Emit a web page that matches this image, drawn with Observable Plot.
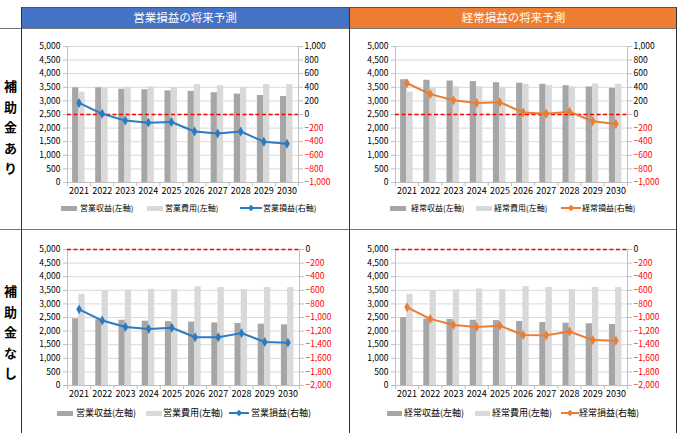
<!DOCTYPE html>
<html><head><meta charset="utf-8">
<script src="https://cdn.jsdelivr.net/npm/d3@7"></script>
<script src="https://cdn.jsdelivr.net/npm/@observablehq/plot@0.6"></script>
<style>
body{margin:0;background:#fff;font-family:"Noto Sans CJK JP","Noto Sans",sans-serif;}
#root{position:relative;width:677px;height:433px;overflow:hidden;background:#fff;}
.abs{position:absolute;}
.hdr{position:absolute;top:7px;height:21px;color:#fff;font-size:11.5px;line-height:21px;text-align:center;}
.row{position:absolute;left:0;width:21px;text-align:center;font-weight:bold;font-size:13px;line-height:20.5px;color:#000;}
.lg{position:absolute;white-space:nowrap;color:#000;}
</style></head><body><div id="root"></div>
<script>
// ---- data ----
const years = ["2021","2022","2023","2024","2025","2026","2027","2028","2029","2030"];
// 補助金あり
const opRevWith    = [3480, 3480, 3430, 3410, 3370, 3350, 3300, 3250, 3200, 3160];
const opCostWith   = [3320, 3470, 3500, 3510, 3490, 3600, 3560, 3500, 3600, 3600];
const opProfitWith = [170, 10, -90, -120, -110, -250, -280, -250, -400, -430];
const ordRevWith    = [3780, 3760, 3730, 3710, 3670, 3650, 3610, 3560, 3510, 3460];
const ordCostWith   = [3320, 3480, 3520, 3520, 3500, 3610, 3570, 3510, 3620, 3610];
const ordProfitWith = [460, 300, 210, 170, 180, 30, 10, 40, -100, -140];
// 補助金なし
const opRevWithout    = [2450, 2420, 2400, 2365, 2350, 2330, 2300, 2280, 2255, 2230];
const opCostWithout   = [3355, 3480, 3500, 3540, 3530, 3630, 3600, 3530, 3600, 3600];
const opProfitWithout = [-880, -1045, -1140, -1170, -1150, -1290, -1290, -1230, -1360, -1370];
const ordRevWithout    = [2495, 2445, 2430, 2400, 2385, 2355, 2315, 2290, 2270, 2245];
const ordCostWithout   = [3355, 3485, 3515, 3550, 3520, 3635, 3605, 3525, 3605, 3605];
const ordProfitWithout = [-850, -1020, -1110, -1140, -1120, -1258, -1260, -1205, -1332, -1342];
// tick labels
const leftTicks = d3.range(0, 5001, 500);
const rightTicksWith = d3.range(-1000, 1001, 200);
const rightTicksWithout = d3.range(-2000, 1, 200);
// texts
const headers = ["営業損益の将来予測", "経常損益の将来予測"];
const rowLabels = ["補助金あり", "補助金なし"];
const legendOp = ["営業収益(左軸)", "営業費用(左軸)", "営業損益(右軸)"];
const legendOrd = ["経常収益(左軸)", "経常費用(左軸)", "経常損益(右軸)"];

const BLUE = "#2B7BC0", ORANGE = "#ED7D31";
const DARK = "#a6a6a6", LIGHT = "#d9d9d9", AXIS = "#bfbfbf";
const root = document.getElementById("root");
const fmt = d3.format(",");

function panel({rev, cost, profit, rightTicks, color, width, marginLeft, marginRight}) {
  const rows = years.map((y, i) => ({i, year: y, rev: rev[i], cost: cost[i], profit: profit[i]}));
  const toLeft = d3.scaleLinear().domain(d3.extent(rightTicks)).range([0, 5000]);
  return Plot.plot({
    width, height: 166, marginTop: 12, marginBottom: 18, marginLeft, marginRight,
    x: {domain: [0, 10]},
    y: {domain: [0, 5000]},
    style: {fontFamily: '"Noto Sans CJK JP","Noto Sans",sans-serif', fontSize: "8.5px", color: "#000", background: "transparent", overflow: "visible"},
    marks: [
      Plot.ruleY(leftTicks.filter(v => v > 0), {stroke: "#d9d9d9"}),
      Plot.rectY(rows, {x1: d => d.i + 0.22, x2: d => d.i + 0.49, y1: 0, y2: "rev", fill: DARK}),
      Plot.rectY(rows, {x1: d => d.i + 0.49, x2: d => d.i + 0.76, y1: 0, y2: "cost", fill: LIGHT}),
      Plot.ruleX([0, 10], {stroke: AXIS}),
      Plot.ruleY([0], {stroke: AXIS}),
      Plot.axisY(leftTicks, {anchor: "left", tickSize: 4, tickPadding: 3, tickFormat: fmt, stroke: AXIS, label: null}),
      Plot.axisY(rightTicks.map(v => toLeft(v)), {anchor: "right", tickSize: 4, tickFormat: () => "", stroke: AXIS, label: null}),
      Plot.text(rightTicks.filter(v => v >= 0), {x: 10, y: v => toLeft(v), text: v => fmt(v), dx: 6, textAnchor: "start", fill: "#000"}),
      Plot.text(rightTicks.filter(v => v < 0), {x: 10, y: v => toLeft(v), text: v => fmt(v), dx: 6, textAnchor: "start", fill: "#ff0000"}),
      Plot.axisX(d3.range(11), {anchor: "bottom", tickSize: 4, tickFormat: () => "", stroke: AXIS, label: null}),
      Plot.axisX(years.map((_, i) => i + 0.5), {anchor: "bottom", tickSize: 0, tickPadding: 5, tickFormat: v => years[Math.floor(v)], label: null, fontSize: 9}),
      Plot.ruleY([toLeft(0)], {stroke: "#ff0000", strokeWidth: 1.5, strokeDasharray: "4,2.5"}),
      Plot.line(rows, {x: d => d.i + 0.5, y: d => toLeft(d.profit), stroke: color, strokeWidth: 2}),
      Plot.dot(rows, {x: d => d.i + 0.5, y: d => toLeft(d.profit), symbol: "diamond", r: 3, fill: color})
    ]
  });
}

function place(el, left, top) {
  el.style.position = "absolute"; el.style.left = left + "px"; el.style.top = top + "px";
  root.appendChild(el);
}

function line(l, t, w, h, c) {
  const d = document.createElement("div");
  d.className = "abs";
  Object.assign(d.style, {left: l + "px", top: t + "px", width: w + "px", height: h + "px", background: c});
  root.appendChild(d);
}

// headers
const h1 = document.createElement("div"); h1.className = "hdr";
Object.assign(h1.style, {left: "21px", width: "328px", background: "#4472C4"}); h1.textContent = headers[0]; root.appendChild(h1);
const h2 = document.createElement("div"); h2.className = "hdr";
Object.assign(h2.style, {left: "350px", width: "327px", background: "#ED7D31"}); h2.textContent = headers[1]; root.appendChild(h2);

line(21, 7, 656, 1, "#555");
line(0, 28, 677, 1, "#777");
line(0, 229, 677, 1, "#777");
line(21, 7, 1, 426, "#333");
line(349, 7, 1, 426, "#333");
line(676, 7, 1, 426, "#333");

// row labels
rowLabels.forEach((t, k) => {
  const d = document.createElement("div"); d.className = "row";
  d.style.top = (k === 0 ? 76 : 281) + "px";
  d.innerHTML = t.split("").join("<br>");
  root.appendChild(d);
});

// panels
place(panel({rev: opRevWith, cost: opCostWith, profit: opProfitWith, rightTicks: rightTicksWith, color: BLUE, width: 327, marginLeft: 45, marginRight: 51}), 22, 34);
place(panel({rev: ordRevWith, cost: ordCostWith, profit: ordProfitWith, rightTicks: rightTicksWith, color: ORANGE, width: 327, marginLeft: 45, marginRight: 50}), 350, 34);
place(panel({rev: opRevWithout, cost: opCostWithout, profit: opProfitWithout, rightTicks: rightTicksWithout, color: BLUE, width: 327, marginLeft: 45, marginRight: 50}), 22, 237);
place(panel({rev: ordRevWithout, cost: ordCostWithout, profit: ordProfitWithout, rightTicks: rightTicksWithout, color: ORANGE, width: 327, marginLeft: 45, marginRight: 50}), 350, 237);

// legends
function legend(labels, color, cy, fontSize, pos) {
  const [s1, t1, s2, t2, ln, t3, sw, lw] = pos;
  const mk = (l, w, c) => line(l, cy - 2.5, w, 5, c);
  mk(s1, sw, DARK); mk(s2, sw, LIGHT);
  const svg = document.createElementNS("http://www.w3.org/2000/svg", "svg");
  svg.setAttribute("width", lw); svg.setAttribute("height", 10);
  svg.innerHTML = `<line x1="0" y1="5" x2="${lw}" y2="5" stroke="${color}" stroke-width="2"/><path d="M${lw/2},1.8L${lw/2+3.2},5L${lw/2},8.2L${lw/2-3.2},5Z" fill="${color}"/>`;
  svg.style.position = "absolute"; svg.style.left = ln + "px"; svg.style.top = (cy - 5) + "px";
  root.appendChild(svg);
  [t1, t2, t3].forEach((x, k) => {
    const d = document.createElement("div"); d.className = "lg";
    Object.assign(d.style, {left: x + "px", top: (cy - fontSize * 0.75) + "px", fontSize: fontSize + "px", lineHeight: (fontSize * 1.5) + "px"});
    d.textContent = labels[k];
    root.appendChild(d);
  });
}
legend(legendOp, BLUE, 208, 8, [61, 80, 147, 165, 240, 263, 16, 22]);
legend(legendOrd, ORANGE, 208, 8, [390, 411, 476, 494, 561, 582, 16, 20]);
legend(legendOp, BLUE, 413, 9, [57, 76, 146, 163, 229, 251, 16, 20]);
legend(legendOrd, ORANGE, 413, 9, [387, 404, 475, 492, 561, 579, 15, 18]);
</script></body></html>
